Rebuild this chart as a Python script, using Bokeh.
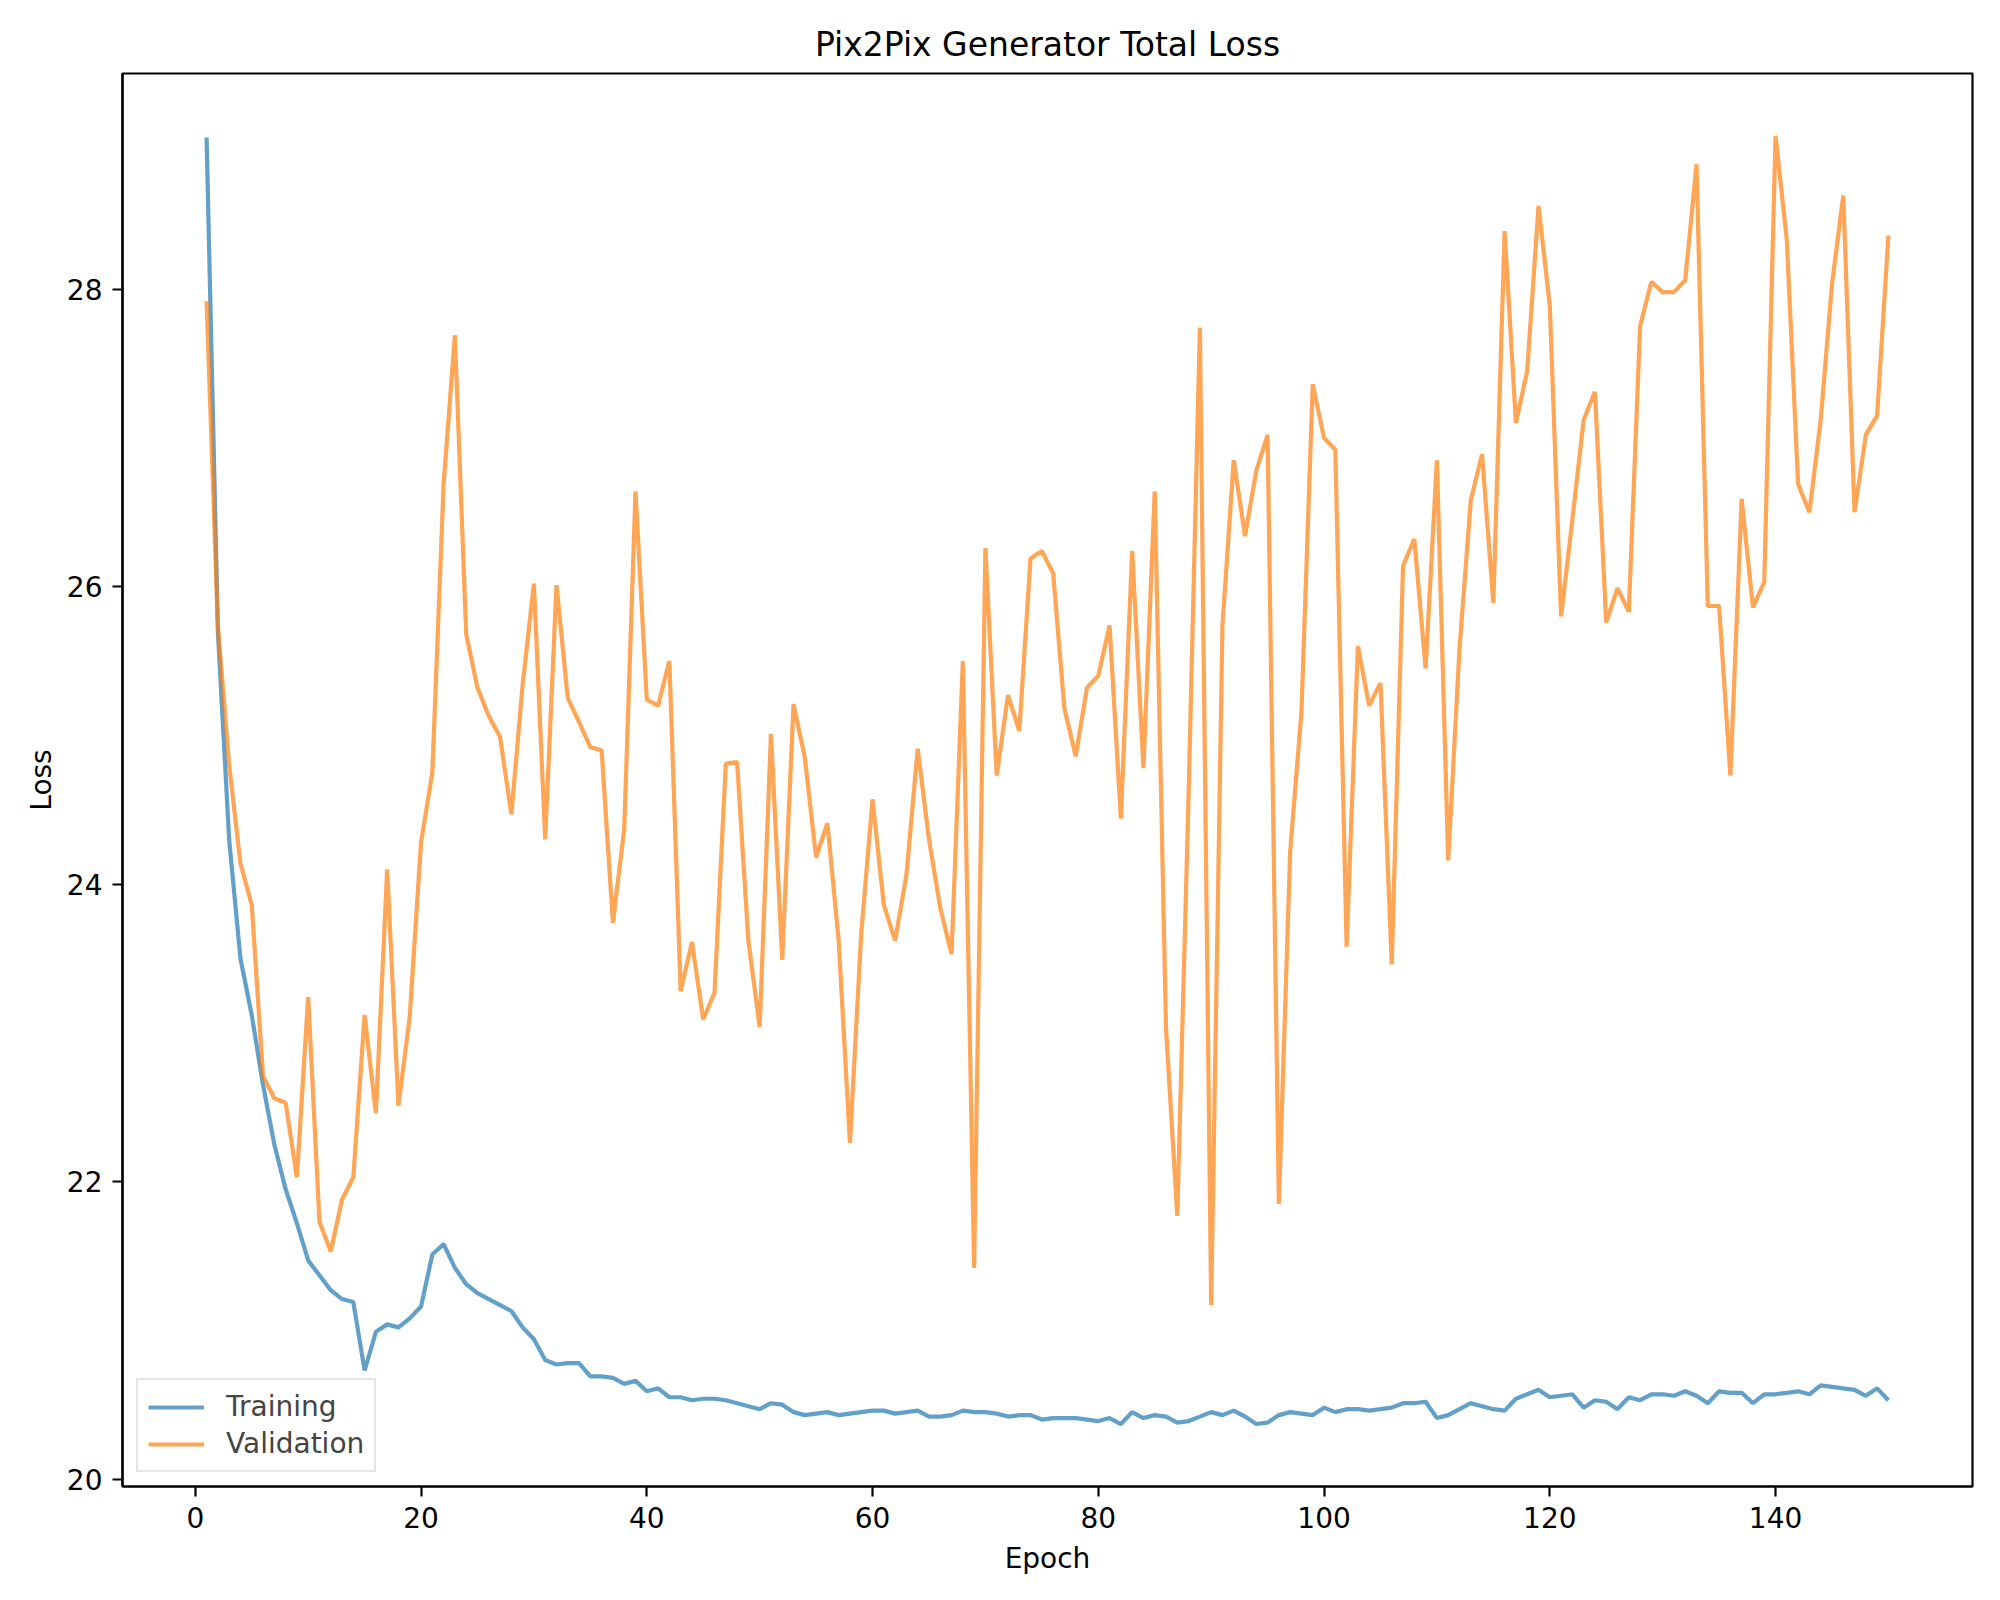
import numpy as np
from bokeh.plotting import figure
from bokeh.models import Range1d, FixedTicker, Legend, LegendItem
from bokeh.embed import file_html
from bokeh.resources import INLINE

epochs = list(range(1, 151))

training = [
    29.02, 25.70, 24.30, 23.50, 23.12, 22.65, 22.25, 21.95, 21.72, 21.47,
    21.37, 21.27, 21.21, 21.19, 20.73, 20.99, 21.04, 21.02, 21.08, 21.16,
    21.51, 21.58, 21.42, 21.31, 21.25, 21.21, 21.17, 21.13, 21.02, 20.94,
    20.80, 20.77, 20.78, 20.78, 20.69, 20.69, 20.68, 20.64, 20.66, 20.59,
    20.61, 20.55, 20.55, 20.53, 20.54, 20.54, 20.53, 20.51, 20.49, 20.47,
    20.51, 20.50, 20.45, 20.43, 20.44, 20.45, 20.43, 20.44, 20.45, 20.46,
    20.46, 20.44, 20.45, 20.46, 20.42, 20.42, 20.43, 20.46, 20.45, 20.45,
    20.44, 20.42, 20.43, 20.43, 20.40, 20.41, 20.41, 20.41, 20.40, 20.39,
    20.41, 20.37, 20.45, 20.41, 20.43, 20.42, 20.38, 20.39, 20.42, 20.45,
    20.43, 20.46, 20.42, 20.37, 20.38, 20.43, 20.45, 20.44, 20.43, 20.48,
    20.45, 20.47, 20.47, 20.46, 20.47, 20.48, 20.51, 20.51, 20.52, 20.41,
    20.43, 20.47, 20.51, 20.49, 20.47, 20.46, 20.54, 20.57, 20.60, 20.55,
    20.56, 20.57, 20.48, 20.53, 20.52, 20.47, 20.55, 20.53, 20.57, 20.57,
    20.56, 20.59, 20.56, 20.51, 20.59, 20.58, 20.58, 20.51, 20.57, 20.57,
    20.58, 20.59, 20.57, 20.63, 20.62, 20.61, 20.60, 20.56, 20.61, 20.53,
]

validation = [
    27.92, 25.74, 24.80, 24.14, 23.86, 22.71, 22.56, 22.53, 22.03, 23.24,
    21.73, 21.53, 21.88, 22.03, 23.12, 22.46, 24.10, 22.51, 23.11, 24.28,
    24.75, 26.69, 27.69, 25.68, 25.32, 25.13, 24.99, 24.47, 25.34, 26.02,
    24.30, 26.01, 25.25, 25.09, 24.92, 24.90, 23.74, 24.37, 26.64, 25.24,
    25.20, 25.50, 23.28, 23.61, 23.09, 23.27, 24.81, 24.82, 23.62, 23.04,
    25.01, 23.49, 25.21, 24.85, 24.18, 24.41, 23.62, 22.26, 23.67, 24.57,
    23.86, 23.62, 24.06, 24.91, 24.30, 23.84, 23.53, 25.50, 21.42, 26.26,
    24.73, 25.27, 25.03, 26.19, 26.24, 26.09, 25.18, 24.86, 25.32, 25.40,
    25.74, 24.44, 26.24, 24.78, 26.64, 23.03, 21.77, 24.60, 27.74, 21.17,
    25.74, 26.85, 26.34, 26.78, 27.02, 21.85, 24.22, 25.16, 27.36, 27.00,
    26.92, 23.58, 25.60, 25.20, 25.35, 23.46, 26.14, 26.32, 25.45, 26.85,
    24.16, 25.58, 26.58, 26.89, 25.89, 28.39, 27.10, 27.45, 28.56, 27.89,
    25.80, 26.45, 27.12, 27.31, 25.76, 25.99, 25.83, 27.75, 28.05, 27.98,
    27.98, 28.06, 28.84, 25.87, 25.87, 24.73, 26.59, 25.86, 26.03, 29.03,
    28.33, 26.69, 26.50, 27.12, 28.03, 28.63, 26.50, 27.02, 27.15, 28.36,
]

x_ticks = [0, 20, 40, 60, 80, 100, 120, 140]
y_ticks = [20, 22, 24, 26, 28]

FONT = "DejaVu Sans"

p = figure(
    width=1984, height=1584,
    output_backend="svg", toolbar_location=None,
    x_range=Range1d(-6.45, 157.45), y_range=Range1d(19.95, 29.45),
    min_border_left=122, min_border_right=12, min_border_top=73, min_border_bottom=98,
    title="Pix2Pix Generator Total Loss",
)
p.title.align = "center"
p.title.text_font = FONT
p.title.text_font_size = "33px"
p.title.text_font_style = "normal"
p.title.text_color = "black"
p.title.standoff = 20

p.xgrid.visible = False
p.ygrid.visible = False
p.outline_line_color = "black"
p.outline_line_width = 2.2
p.background_fill_color = "white"
p.border_fill_color = "white"

for ax in (p.xaxis[0], p.yaxis[0]):
    ax.axis_line_width = 2.2
    ax.major_tick_line_width = 2.2
    ax.major_tick_out = 10
    ax.major_tick_in = 0
    ax.minor_tick_out = 0
    ax.minor_tick_in = 0
    ax.major_label_text_font = FONT
    ax.major_label_text_font_size = "28px"
    ax.major_label_text_color = "black"
    ax.axis_label_text_font = FONT
    ax.axis_label_text_font_size = "28px"
    ax.axis_label_text_font_style = "normal"
    ax.axis_label_text_color = "black"
    ax.major_label_standoff = 10

p.xaxis[0].ticker = FixedTicker(ticks=x_ticks)
p.yaxis[0].ticker = FixedTicker(ticks=y_ticks)
p.xaxis[0].axis_label = "Epoch"
p.yaxis[0].axis_label = "Loss"
p.xaxis[0].axis_label_standoff = 11
p.yaxis[0].axis_label_standoff = 6

r_train = p.line(epochs, training, line_color="#1f77b4", line_alpha=0.7, line_width=4.2)
r_val = p.line(epochs, validation, line_color="#ff7f0e", line_alpha=0.7, line_width=4.2)

legend = Legend(items=[LegendItem(label="Training", renderers=[r_train]),
                       LegendItem(label="Validation", renderers=[r_val])],
                location="bottom_left")
legend.margin = 14
legend.padding = 10
legend.spacing = 4
legend.glyph_width = 56
legend.glyph_height = 28
legend.label_height = 28
legend.label_standoff = 22
legend.label_text_font = FONT
legend.label_text_font_size = "28px"
legend.border_line_color = "#cccccc"
legend.border_line_width = 2
legend.background_fill_alpha = 0.8
p.add_layout(legend, "center")

open("out.html", "w").write(file_html(p, INLINE))
